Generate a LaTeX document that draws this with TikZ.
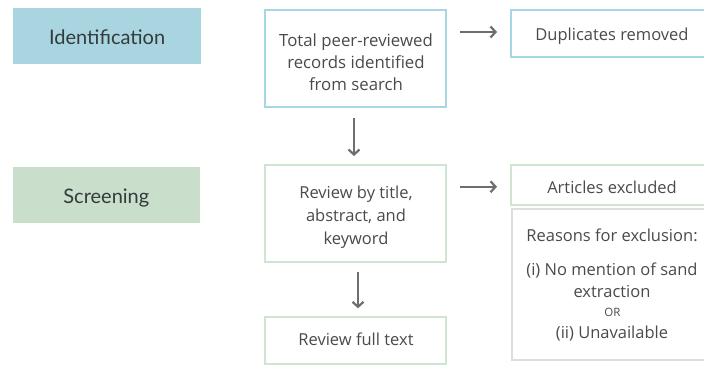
\documentclass[tikz,border=0pt]{standalone}
\usepackage{fontspec}
\setmainfont{Open Sans}
\newfontfamily\labelfont{Lato}
\usetikzlibrary{arrows.meta}
\definecolor{idfill}{HTML}{A8D5E0}
\definecolor{idline}{HTML}{A6D7E2}
\definecolor{scfill}{HTML}{C9DFCB}
\definecolor{scline}{HTML}{D0E4D2}
\definecolor{grayline}{HTML}{DCDFDC}
\definecolor{txt}{HTML}{4A4A4A}
\definecolor{stagetxt}{HTML}{333B3D}
\definecolor{arrowgray}{HTML}{6E6E6E}
\tikzset{
  stage/.style={inner sep=0pt, outer sep=0pt},
  stagetext/.style={anchor=base, inner sep=0pt, text=stagetxt,
    font=\labelfont\fontsize{20}{24}\selectfont},
  flowbox/.style={draw, line width=2pt, inner sep=0pt, outer sep=0pt},
  line/.style={anchor=base, inner sep=0pt, text=txt,
    font=\fontsize{16.5}{22}\selectfont},
  bigline/.style={line, font=\fontsize{16.8}{22}\selectfont},
  smallline/.style={line, font=\fontsize{11.5}{13}\selectfont},
  flowarrow/.style={draw=arrowgray, line width=2.2pt,
    -{Straight Barb[length=5pt,width=11pt,line width=2.2pt]}}
}
\begin{document}
\begin{tikzpicture}[x=1pt, y=-1pt]
\useasboundingbox (0,0) rectangle (704,365);

% phase labels
\node[stage, fill=idfill, minimum width=187.7pt, minimum height=55.7pt] (ident) at (107.15,36.15) {};
\node[stagetext] (ident-t) at (107.15,44.3) {Identification};
\node[stage, fill=scfill, minimum width=187.3pt, minimum height=56pt] (screen) at (106.35,194.7) {};
\node[stagetext] (screen-t) at (106.35,203.3) {Screening};

% identification row
\node[flowbox, draw=idline, minimum width=181pt, minimum height=97pt] (total) at (355.5,58.5) {};
\node[bigline] (total-1) at (356,46.7) {Total peer-reviewed};
\node[bigline] (total-2) at (356,68.4) {records identified};
\node[bigline] (total-3) at (356,90.3) {from search};

\node[flowbox, draw=idline, minimum width=202pt, minimum height=47pt] (dup) at (612,33.5) {};
\node[line] (dup-t) at (612,40.7) {Duplicates removed};

% screening row
\node[flowbox, draw=scline, minimum width=181pt, minimum height=97pt] (review) at (355.5,213.5) {};
\node[line] (review-1) at (356,198.3) {Review by title,};
\node[line] (review-2) at (356,221.6) {abstract, and};
\node[line] (review-3) at (356,244.6) {keyword};

\node[flowbox, draw=scline, minimum width=202pt, minimum height=40.5pt] (excl) at (612,184.75) {};
\node[line] (excl-t) at (612,193.3) {Articles excluded};

\node[flowbox, draw=grayline, minimum width=201.3pt, minimum height=151.5pt] (reasons) at (612.35,284.25) {};
\node[line] (reasons-1) at (612,241.7) {Reasons for exclusion:};
\node[line] (reasons-2) at (612,275) {(i) No mention of sand};
\node[line] (reasons-3) at (612,297.3) {extraction};
\node[smallline] (reasons-4) at (612.5,316.7) {OR};
\node[line] (reasons-5) at (612,338.3) {(ii) Unavailable};

\node[flowbox, draw=scline, minimum width=181pt, minimum height=46.5pt] (full) at (355.5,340.25) {};
\node[line] (full-t) at (356,345.3) {Review full text};

% connectors
\draw[flowarrow, shorten <=14pt, shorten >=14pt]
  ([yshift=1.5pt]total.east |- dup.west) -- ([yshift=1.5pt]dup.west);
\draw[flowarrow, shorten <=11pt, shorten >=9pt]
  ([xshift=-1.5pt]total.south) -- ([xshift=-1.5pt]review.north);
\draw[flowarrow, shorten <=14pt, shorten >=14pt]
  ([yshift=-2pt]review.east |- excl.west) -- ([yshift=-2pt]excl.west);
\draw[flowarrow, shorten <=9.7pt, shorten >=8.7pt]
  ([xshift=2.5pt]review.south) -- ([xshift=2.5pt]full.north);
\end{tikzpicture}
\end{document}
